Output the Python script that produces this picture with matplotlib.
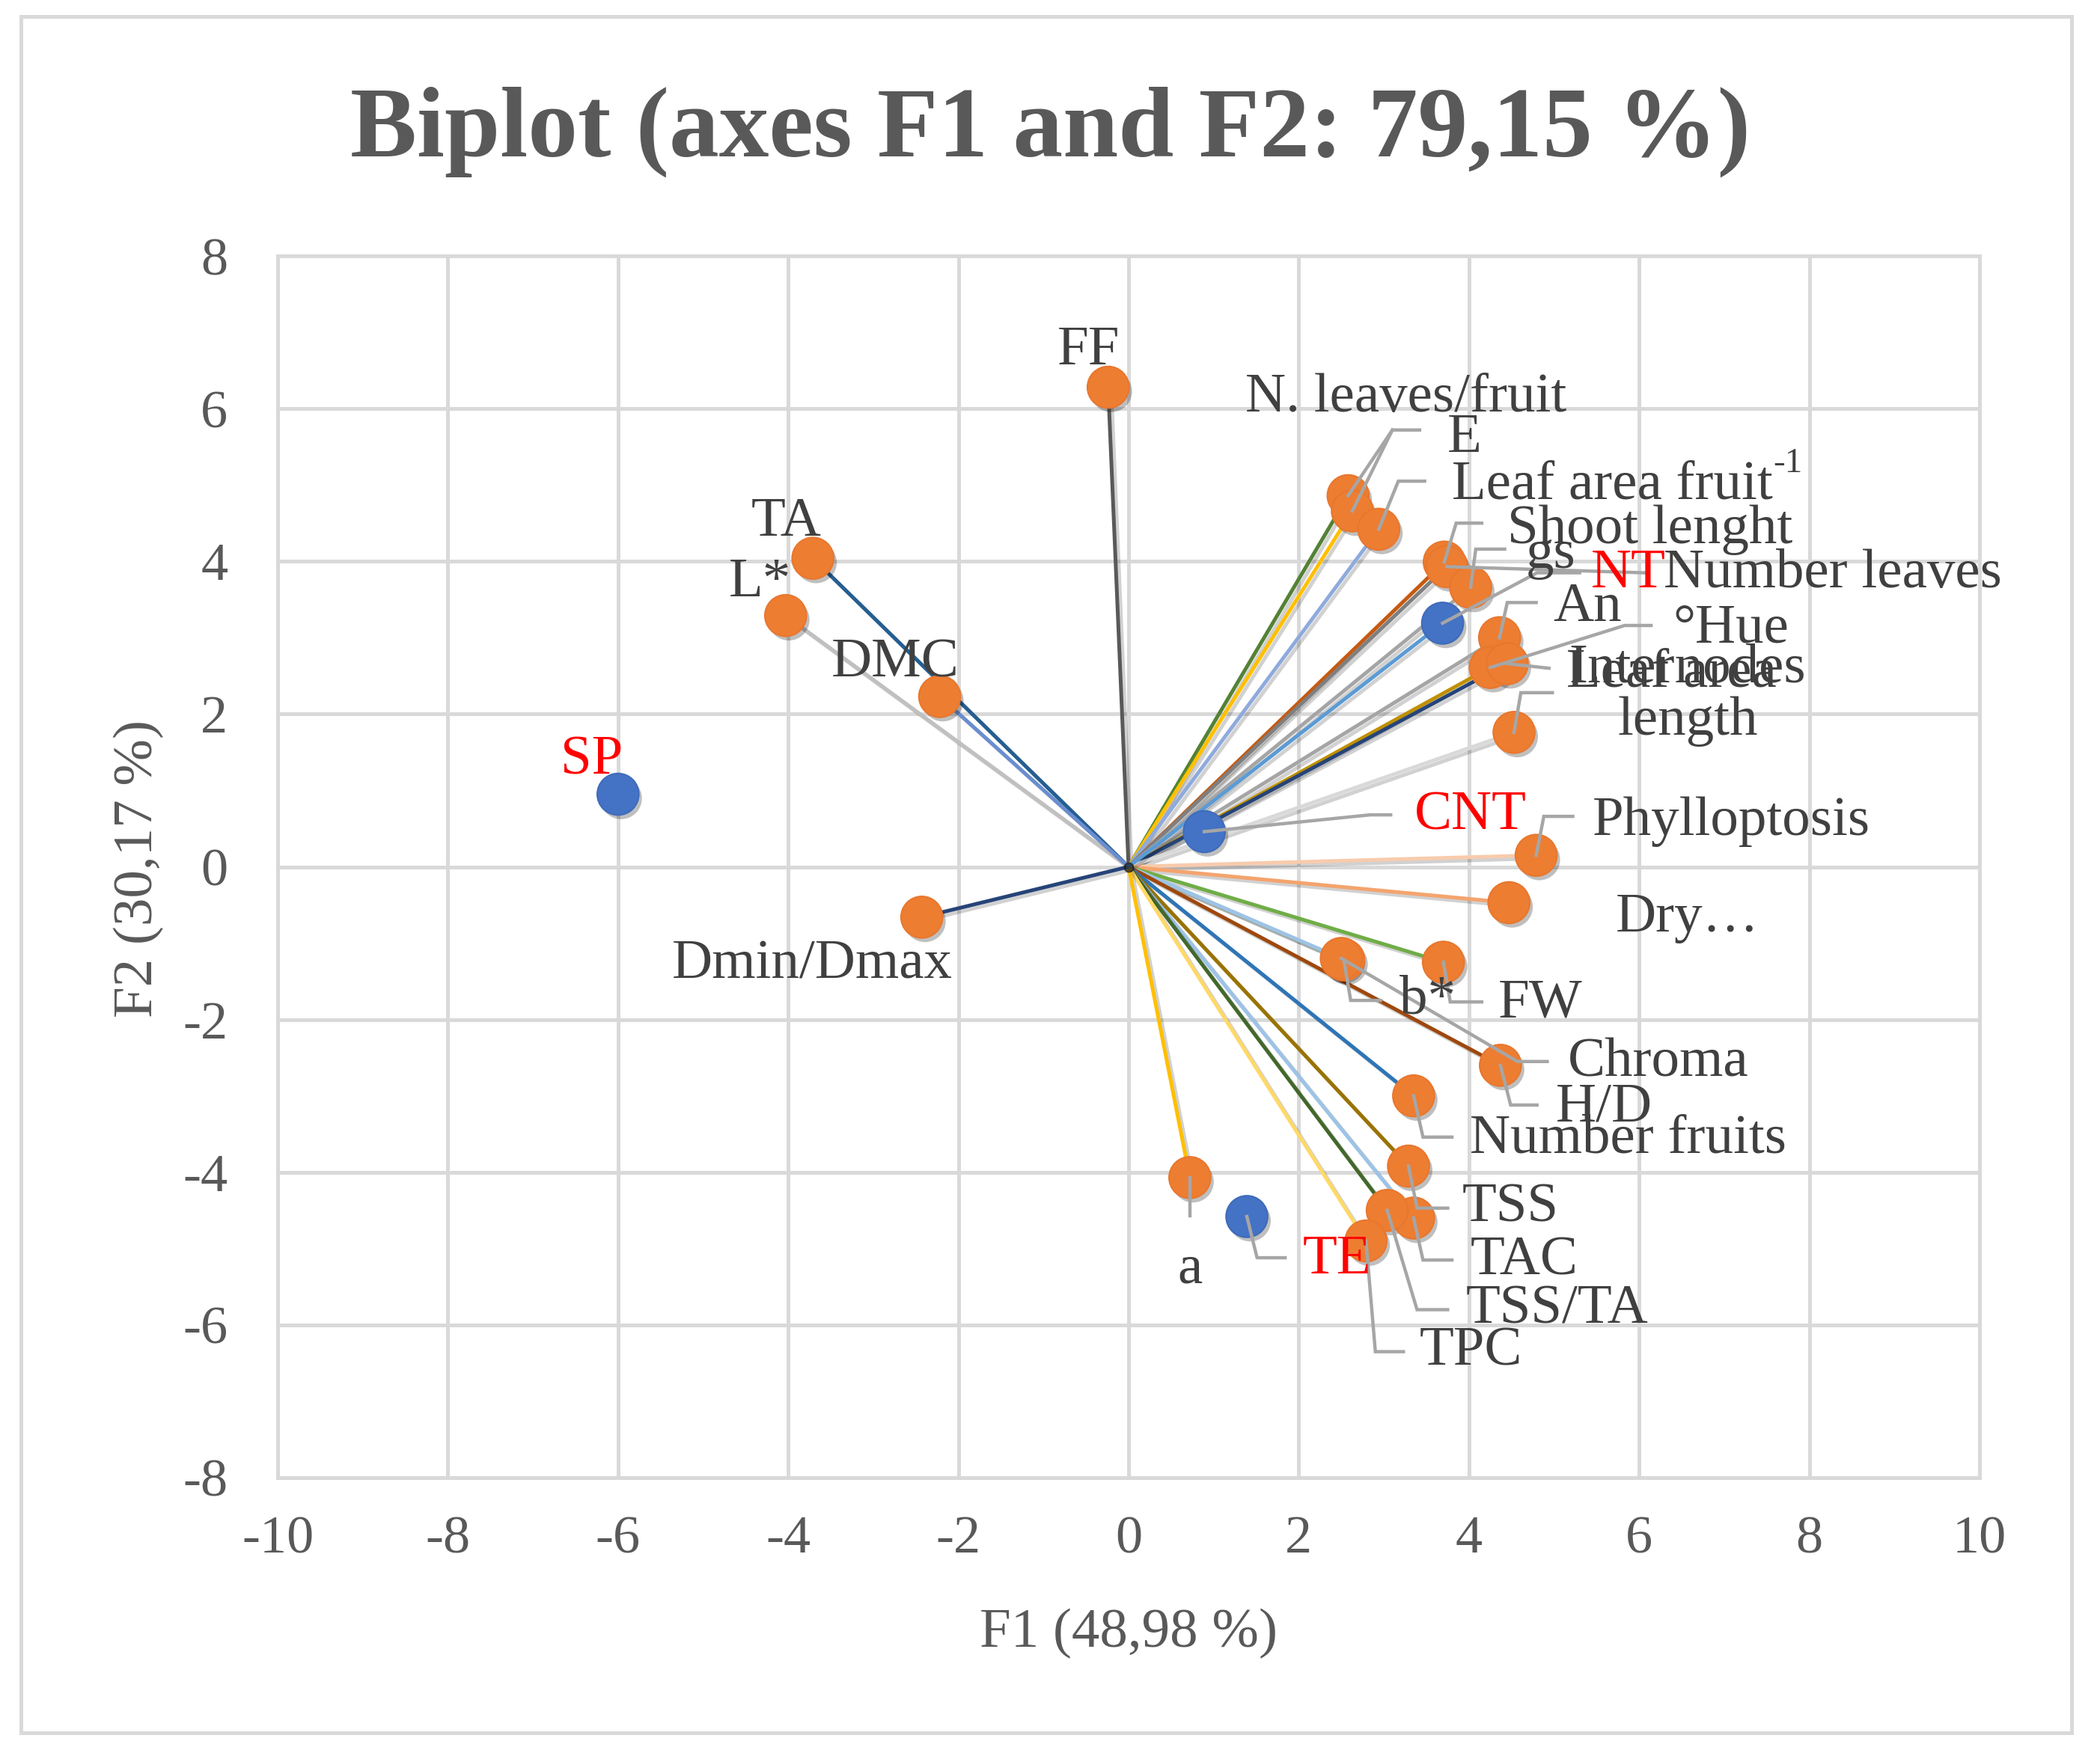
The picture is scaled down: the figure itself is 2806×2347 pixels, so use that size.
import matplotlib
matplotlib.use('Agg')
import matplotlib.pyplot as plt
import matplotlib.patheffects as pe
from matplotlib.patches import Rectangle

# ---------------- data ----------------
var_names = ['FF', 'TA', 'L*', 'DMC', 'Dmin/Dmax',
             'N. leaves/fruit', 'E', 'Leaf area fruit', 'Shoot lenght', 'Number leaves',
             'gs', 'An', '°Hue', 'Leaf area', 'Internodes\nlength',
             'Phylloptosis', 'Dry…', 'FW', 'b*', 'Chroma', 'H/D',
             'Number fruits', 'TSS', 'TAC', 'TSS/TA', 'TPC', 'a']
var_f1 = [-0.24, -3.71, -4.03, -2.22, -2.43,
          2.58, 2.63, 2.94, 3.71, 3.74,
          4.02, 4.36, 4.25, 4.45, 4.53,
          4.79, 4.47, 3.70, 2.53, 2.50, 4.37,
          3.35, 3.29, 3.35, 3.04, 2.79, 0.72]
var_f2 = [6.28, 4.04, 3.29, 2.23, -0.66,
          4.86, 4.66, 4.42, 3.99, 3.93,
          3.66, 3.00, 2.61, 2.66, 1.76,
          0.15, -0.47, -1.25, -1.22, -1.20, -2.60,
          -3.00, -3.92, -4.60, -4.50, -4.90, -4.07]

obs_names = ['SP', 'NT', 'CNT', 'TE']
obs_f1 = [-6.00, 3.69, 0.89, 1.39]
obs_f2 = [0.95, 3.19, 0.46, -4.58]

x_ticks = [-10, -8, -6, -4, -2, 0, 2, 4, 6, 8, 10]
y_ticks = [-8, -6, -4, -2, 0, 2, 4, 6, 8]

# ---------------- styles / layout ----------------
var_colors = ['#595959', '#255E91', '#C0C0C0', '#698ED0', '#264478',
              '#548235', '#FFC000', '#8FAADC', '#C55A11', '#7F7F7F',
              '#A5A5A5', '#A5A5A5', '#BF9000', '#264478', '#D9D9D9',
              '#F8CBAD', '#F4A46E', '#70AD47', '#A9D18E', '#9DC3E6', '#9E480E',
              '#2E75B6', '#997300', '#9DC3E6', '#43682B', '#FFD966', '#FFC000']
obs_line = {'NT': '#5B9BD5'}

# label centres (data coords)
var_label_pos = {
    'FF': (-0.47, 6.75), 'TA': (-4.02, 4.51), 'L*': (-4.33, 3.72),
    'DMC': (-2.74, 2.66), 'Dmin/Dmax': (-3.72, -1.29),
    'N. leaves/fruit': (3.26, 6.14), 'E': (3.95, 5.61),
    'Shoot lenght': (6.13, 4.41), 'gs': (4.96, 4.09), 'Number leaves': (8.28, 3.83),
    'An': (5.39, 3.39), '°Hue': (7.08, 3.11), 'Leaf area': (6.38, 2.54),
    'Internodes\nlength': (6.57, 2.25), 'Phylloptosis': (7.08, 0.59),
    'Dry…': (6.57, -0.67), 'FW': (4.84, -1.80), 'b*': (3.51, -1.75),
    'Chroma': (6.22, -2.57), 'H/D': (5.59, -3.16), 'Number fruits': (5.87, -3.57),
    'TSS': (4.49, -4.47), 'TAC': (4.65, -5.17), 'TSS/TA': (5.04, -5.80),
    'TPC': (4.02, -6.35), 'a': (0.72, -5.27),
}
laf_left = (3.80, 4.99)
obs_label_pos = {'SP': (-6.31, 1.39), 'NT': (5.87, 3.83), 'CNT': (4.02, 0.66), 'TE': (2.45, -5.15)}

# leader polylines: waypoints after the point itself
var_leaders = {
    'N. leaves/fruit': [(3.10, 5.72)],
    'E': [(3.10, 5.72), (3.42, 5.72)],
    'Leaf area fruit': [(3.17, 5.05), (3.48, 5.05)],
    'Shoot lenght': [(3.85, 4.50), (4.15, 4.50)],
    'gs': [(4.08, 4.16), (4.42, 4.16)],
    'Number leaves': [(6.06, 3.85)],
    'An': [(4.45, 3.46), (4.79, 3.46)],
    '°Hue': [(5.83, 3.16), (6.14, 3.16)],
    'Leaf area': [(4.94, 2.60)],
    'Internodes\nlength': [(4.61, 2.28), (4.98, 2.28)],
    'Phylloptosis': [(4.88, 0.66), (5.22, 0.66)],
    'FW': [(3.78, -1.77), (4.15, -1.77)],
    'b*': [(2.61, -1.75), (2.96, -1.75)],
    'Chroma': [(4.57, -2.55), (4.92, -2.55)],
    'H/D': [(4.49, -3.12), (4.80, -3.12)],
    'Number fruits': [(3.46, -3.54), (3.80, -3.54)],
    'TSS': [(3.39, -4.47), (3.75, -4.47)],
    'TAC': [(3.46, -5.15), (3.80, -5.15)],
    'TSS/TA': [(3.39, -5.80), (3.75, -5.80)],
    'TPC': [(2.90, -6.35), (3.23, -6.35)],
    'a': [(0.72, -4.57)],
}
obs_leaders = {
    'NT': [(4.80, 3.85), (5.30, 3.85)],
    'CNT': [(2.84, 0.68), (3.08, 0.68)],
    'TE': [(1.51, -5.12), (1.84, -5.12)],
}

SERIF = ['Liberation Serif', 'DejaVu Serif']
plt.rcParams['font.family'] = SERIF
plt.rcParams['axes.unicode_minus'] = False

W, H = 2806, 2347
fig = plt.figure(figsize=(W / 100, H / 100), dpi=100)
L, R, T, B = 371, 2645, 342, 1975
ax = fig.add_axes([L / W, 1 - B / H, (R - L) / W, (B - T) / H])

GRID = '#D9D9D9'
ax.set_xlim(-10, 10)
ax.set_ylim(-8, 8)
ax.set_xticks(x_ticks)
ax.set_yticks(y_ticks)
ax.grid(True, color=GRID, lw=3.6, zorder=0)
ax.set_axisbelow(True)
for s in ax.spines.values():
    s.set_color(GRID)
    s.set_linewidth(3.6)
ax.tick_params(axis='both', length=0, labelsize=52, colors='#595959')
ax.tick_params(axis='x', pad=36)
ax.tick_params(axis='y', pad=48)

line_fx = [pe.SimpleLineShadow(offset=(3, -3), shadow_color='black', alpha=0.18), pe.Normal()]
mark_fx = [pe.SimplePatchShadow(offset=(3, -4), shadow_rgbFace='black', alpha=0.25), pe.Normal()]

# vectors
for n, x, y, c in zip(var_names, var_f1, var_f2, var_colors):
    ax.plot([0, x], [0, y], color=c, lw=3.6, zorder=2, solid_capstyle='butt', path_effects=line_fx)
for n, x, y in zip(obs_names, obs_f1, obs_f2):
    if n in obs_line:
        ax.plot([0, x], [0, y], color=obs_line[n], lw=3.6, zorder=2, path_effects=line_fx)
# dark shadow knot at the origin where all vectors meet
ax.plot([0], [0], 'o', ms=9, color='#1a1a1a', alpha=0.7, zorder=2.5, ls='none')

# markers
ax.plot(var_f1, var_f2, 'o', ms=40, color='#ED7D31', mec='#E8772E', mew=1.5, zorder=4,
        path_effects=mark_fx, ls='none')
ax.plot(obs_f1, obs_f2, 'o', ms=40, color='#4472C4', mec='#3F6BBA', mew=1.5, zorder=4,
        path_effects=mark_fx, ls='none')

LEAD = '#A6A6A6'
for n, x, y in zip(var_names, var_f1, var_f2):
    if n in var_leaders:
        pts = [(x, y)] + var_leaders[n]
        ax.plot([p[0] for p in pts], [p[1] for p in pts], color=LEAD, lw=3.2, zorder=5,
                solid_joinstyle='miter')
for n, x, y in zip(obs_names, obs_f1, obs_f2):
    if n in obs_leaders:
        pts = [(x, y)] + obs_leaders[n]
        ax.plot([p[0] for p in pts], [p[1] for p in pts], color=LEAD, lw=3.2, zorder=5)

TXT = '#404040'
FS = 54
for n in var_names:
    if n == 'Leaf area fruit':
        t = ax.text(laf_left[0], laf_left[1], n, ha='left', va='center', fontsize=FS,
                    color=TXT, zorder=6)
        ax.annotate('-1', xy=(1.0, 0.62), xycoords=t, ha='left', va='bottom',
                    fontsize=34, color=TXT, zorder=6)
        continue
    px, py = var_label_pos[n]
    ax.text(px, py, n, ha='center', va='center', fontsize=FS, color=TXT, zorder=6,
            linespacing=1.05)
for n in obs_names:
    px, py = obs_label_pos[n]
    ax.text(px, py, n, ha='center', va='center', fontsize=FS, color='#FF0000', zorder=6)

# titles
fig.text(0.5, 1 - 209 / H, 'Biplot (axes F1 and F2: 79,15 %)', ha='center', va='baseline',
         fontsize=96, fontweight='bold', color='#595959')
fig.text((L + R) / 2 / W, 1 - 2183 / H, 'F1 (48,98 %)', ha='center', va='center',
         fontsize=54, color='#595959')
fig.text(185 / W, 1 - 1161 / H, 'F2 (30,17 %)', ha='center', va='center', rotation=90,
         fontsize=54, color='#595959')

# chart border
fig.patches.append(Rectangle((28 / W, 1 - 2316 / H), (2768 - 28) / W, (2316 - 22) / H,
                             transform=fig.transFigure, fill=False, edgecolor=GRID, lw=3.6))

fig.savefig('out.png', dpi=100, facecolor='white')
